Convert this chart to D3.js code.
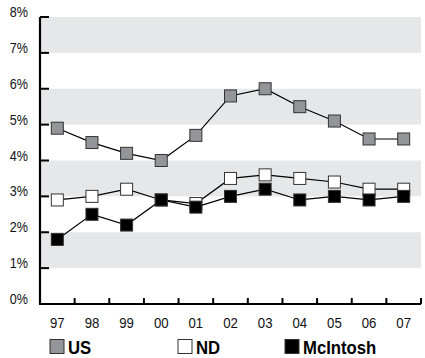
<!DOCTYPE html>
<html><head><meta charset="utf-8">
<script src="https://cdn.jsdelivr.net/npm/d3@7/dist/d3.min.js"></script>
<style>body{margin:0;background:#fff}</style>
</head><body>
<svg id="c" width="425" height="358"></svg>
<script>
const years = ["97","98","99","00","01","02","03","04","05","06","07"];
const us = [4.9,4.5,4.2,4.0,4.7,5.8,6.0,5.5,5.1,4.6,4.6];
const nd = [2.9,3.0,3.2,2.9,2.8,3.5,3.6,3.5,3.4,3.2,3.2];
const mcintosh = [1.8,2.5,2.2,2.9,2.7,3.0,3.2,2.9,3.0,2.9,3.0];
const yTicks = [0,1,2,3,4,5,6,7,8];
const seriesNames = ["US","ND","McIntosh"];
const fills = ["#939598","#ffffff","#000000"];

const font = "'Liberation Sans',Arial,sans-serif";
const svg = d3.select("#c");
const L = 40, R = 421, T = 17, B = 304;
const x = d3.scaleBand().domain(years).range([L, R]);
const y = d3.scaleLinear().domain([0, 8]).range([B, T]);

// bands
svg.append("g").selectAll("rect").data([1,3,5,7]).join("rect")
  .attr("x", L).attr("width", R - L)
  .attr("y", d => y(d + 1)).attr("height", d => y(d) - y(d + 1))
  .attr("fill", "#e6e7e8");

// y axis
svg.append("line").attr("x1", L).attr("x2", L).attr("y1", y(8)).attr("y2", B)
  .attr("stroke", "#000").attr("stroke-width", 2.2);
svg.append("g").selectAll("line").data(yTicks.slice(1)).join("line")
  .attr("x1", L).attr("x2", L + 9).attr("y1", d => y(d)).attr("y2", d => y(d))
  .attr("stroke", "#000").attr("stroke-width", 2);
svg.append("g").selectAll("text").data(yTicks).join("text")
  .attr("transform", d => `translate(28,${y(d)}) scale(0.84,1)`).attr("text-anchor", "end")
  .attr("font-family", font).attr("font-size", 15).attr("fill", "#111").text(d => d + "%");

// x axis
svg.append("line").attr("x1", L - 1).attr("x2", R).attr("y1", B).attr("y2", B)
  .attr("stroke", "#000").attr("stroke-width", 2.2);
svg.append("g").selectAll("line").data(years.slice(1)).join("line")
  .attr("x1", d => x(d)).attr("x2", d => x(d)).attr("y1", B).attr("y2", B - 6)
  .attr("stroke", "#000").attr("stroke-width", 2);
svg.append("line").attr("x1", R).attr("x2", R).attr("y1", B).attr("y2", B - 6)
  .attr("stroke", "#000").attr("stroke-width", 2);
svg.append("g").selectAll("text").data(years).join("text")
  .attr("transform", d => `translate(${x(d) + x.bandwidth() / 2},328) scale(0.88,1)`).attr("text-anchor", "middle")
  .attr("font-family", font).attr("font-size", 15).attr("fill", "#111").text(d => d);

// series
const all = [us, nd, mcintosh];
const line = d3.line().x((d, i) => x(years[i]) + x.bandwidth() / 2).y(d => y(d));
all.forEach((vals, k) => {
  svg.append("path").datum(vals).attr("d", line)
    .attr("fill", "none").attr("stroke", "#000").attr("stroke-width", 1.2);
});
all.forEach((vals, k) => {
  svg.append("g").selectAll("rect").data(vals).join("rect")
    .attr("x", (d, i) => x(years[i]) + x.bandwidth() / 2 - 6)
    .attr("y", d => y(d) - 6).attr("width", 12).attr("height", 12)
    .attr("fill", fills[k]).attr("stroke", "#333").attr("stroke-width", 1);
});

// legend
const lx = [50, 178, 285];
seriesNames.forEach((n, k) => {
  svg.append("rect").attr("x", lx[k]).attr("y", 339.5).attr("width", 14).attr("height", 14)
    .attr("fill", fills[k]).attr("stroke", "#333").attr("stroke-width", 1);
  svg.append("text").attr("transform", `translate(${lx[k] + 18},354) scale(0.88,1)`)
    .attr("font-family", font).attr("font-weight", "bold").attr("font-size", 19).text(n);
});
</script>
</body></html>
